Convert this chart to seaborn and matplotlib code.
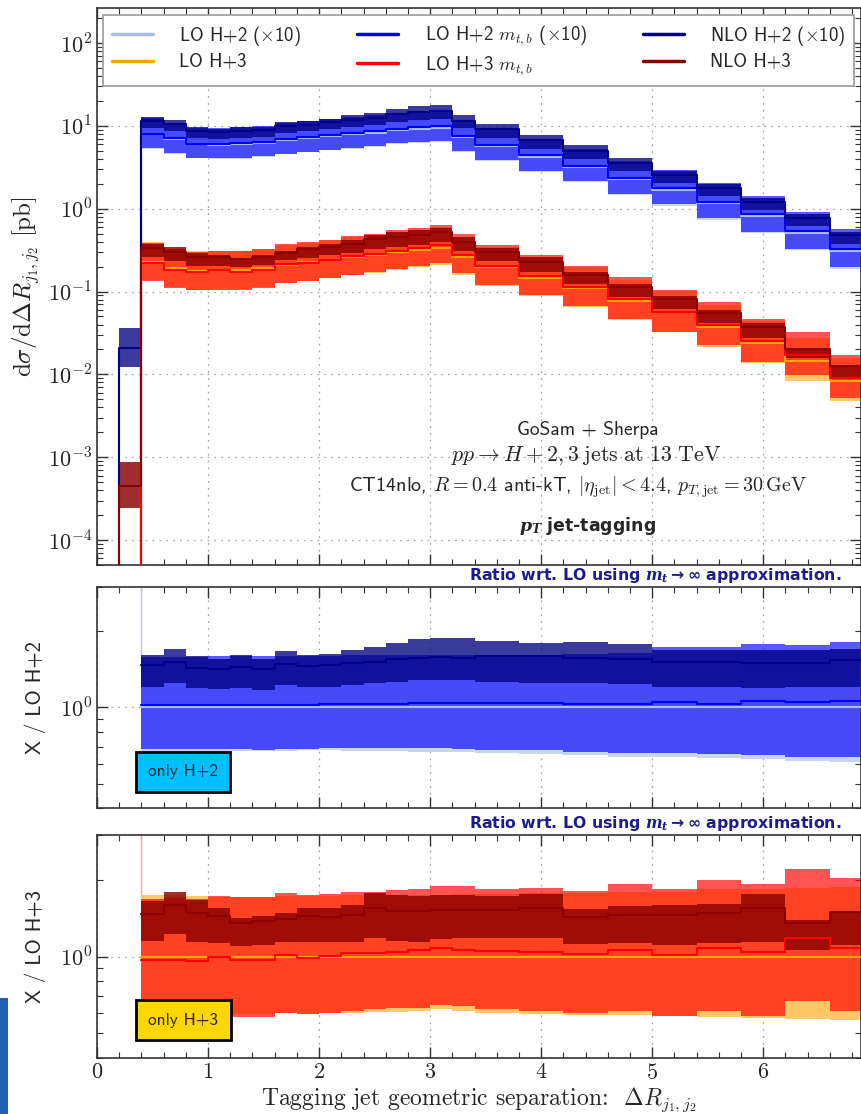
import numpy as np
import matplotlib.pyplot as plt
import seaborn as sns
from matplotlib.lines import Line2D
from matplotlib.patches import Rectangle
from matplotlib.ticker import LogLocator, NullFormatter, MultipleLocator, FuncFormatter

# bin edges of the Delta R distribution
edges = [0.2, 0.4, 0.6, 0.8, 1.0, 1.2, 1.4, 1.6, 1.8, 2.0, 2.2, 2.4, 2.6, 2.8, 3.0,
         3.2, 3.4, 3.8, 4.2, 4.6, 5.0, 5.4, 5.8, 6.2, 6.6, 7.0]

# LO central values [pb] for bins 0.4 .. 7.0 (H+2 already multiplied by 10)
lo2 = [7.9, 6.9, 6.0, 5.9, 6.0, 6.3, 6.7, 7.1, 7.5, 7.9, 8.3, 8.9, 9.3, 9.5, 7.3,
       5.7, 4.25, 3.2, 2.3, 1.7, 1.17, 0.81, 0.51, 0.31]
lo3 = [0.23, 0.19, 0.177, 0.18, 0.18, 0.19, 0.21, 0.225, 0.24, 0.26, 0.275, 0.30, 0.32, 0.34, 0.26,
       0.196, 0.147, 0.111, 0.077, 0.056, 0.037, 0.024, 0.0147, 0.0084]

# NLO in the 0.2-0.4 bin where LO vanishes: (low, central, high)
nlo2_first = [0.0124, 0.0209, 0.0362]
nlo3_first = [2.43e-4, 4.47e-4, 8.7e-4]

# ratios to LO (m_t -> inf), bins 0.4 .. 7.0
lo2_dn = [0.672, 0.672, 0.675, 0.675, 0.672, 0.67, 0.675, 0.676, 0.676, 0.674, 0.672, 0.67, 0.668, 0.666, 0.664,
          0.662, 0.652, 0.648, 0.638, 0.636, 0.629, 0.623, 0.614, 0.61]
lo2_up = [1.55, 1.55, 1.55, 1.56, 1.56, 1.56, 1.56, 1.56, 1.56, 1.56, 1.56, 1.57, 1.57, 1.57, 1.57,
          1.57, 1.57, 1.58, 1.59, 1.63, 1.64, 1.66, 1.67, 1.69]
mtb2 = [1.024, 1.024, 1.02, 1.024, 1.024, 1.02, 1.024, 1.024, 1.03, 1.03, 1.035, 1.035, 1.04, 1.04, 1.04,
        1.04, 1.04, 1.035, 1.03, 1.05, 1.03, 1.065, 1.05, 1.065]
mtb2_dn = [0.682, 0.682, 0.685, 0.685, 0.682, 0.68, 0.685, 0.688, 0.69, 0.69, 0.69, 0.69, 0.69, 0.69, 0.685,
           0.678, 0.676, 0.668, 0.662, 0.662, 0.652, 0.648, 0.638, 0.636]
mtb2_up = [1.59, 1.59, 1.59, 1.6, 1.6, 1.6, 1.6, 1.6, 1.6, 1.61, 1.61, 1.62, 1.62, 1.62, 1.62,
           1.62, 1.62, 1.63, 1.64, 1.736, 1.73, 1.78, 1.77, 1.815]
nlo2 = [1.47, 1.516, 1.435, 1.42, 1.45, 1.42, 1.49, 1.46, 1.47, 1.5, 1.52, 1.553, 1.57, 1.58, 1.57,
        1.6, 1.6, 1.57, 1.56, 1.516, 1.516, 1.5, 1.5, 1.54]
nlo2_dn = [1.21, 1.246, 1.19, 1.18, 1.2, 1.17, 1.23, 1.21, 1.21, 1.23, 1.246, 1.265, 1.284, 1.284, 1.28,
           1.265, 1.254, 1.25, 1.24, 1.21, 1.21, 1.19, 1.21, 1.21]
nlo2_up = [1.62, 1.70, 1.60, 1.55, 1.62, 1.55, 1.675, 1.62, 1.63, 1.69, 1.73, 1.805, 1.86, 1.88, 1.88,
           1.84, 1.806, 1.815, 1.79, 1.684, 1.684, 1.684, 1.684, 1.71]

lo3_dn = [0.598, 0.598, 0.598, 0.598, 0.595, 0.595, 0.598, 0.595, 0.603, 0.603, 0.606, 0.608, 0.612, 0.621, 0.612,
          0.603, 0.595, 0.592, 0.588, 0.583, 0.577, 0.572, 0.567, 0.563]
lo3_up = [1.745, 1.74, 1.733, 1.72, 1.72, 1.72, 1.73, 1.73, 1.73, 1.74, 1.74, 1.75, 1.75, 1.75, 1.76,
          1.76, 1.77, 1.78, 1.79, 1.80, 1.84, 1.85, 1.86, 1.88]
mtb3 = [0.97, 0.97, 0.962, 1.0, 0.97, 0.97, 1.015, 0.99, 1.006, 1.03, 1.036, 1.04, 1.06, 1.083, 1.06,
        1.052, 1.046, 1.02, 1.06, 1.01, 1.077, 1.04, 1.178, 1.083]
mtb3_dn = [0.585, 0.585, 0.585, 0.585, 0.58, 0.58, 0.598, 0.595, 0.603, 0.612, 0.621, 0.627, 0.63, 0.645, 0.64,
           0.62, 0.612, 0.598, 0.61, 0.585, 0.612, 0.585, 0.67, 0.612]
mtb3_up = [1.68, 1.70, 1.68, 1.73, 1.715, 1.715, 1.775, 1.745, 1.76, 1.786, 1.80, 1.823, 1.84, 1.885, 1.885,
           1.85, 1.855, 1.81, 1.92, 1.84, 2.0, 1.92, 2.2, 2.04]
nlo3 = [1.47, 1.6, 1.486, 1.437, 1.36, 1.374, 1.41, 1.437, 1.43, 1.45, 1.55, 1.503, 1.508, 1.53, 1.53,
        1.53, 1.55, 1.43, 1.46, 1.45, 1.486, 1.55, 1.36, 1.49]
nlo3_dn = [1.15, 1.23, 1.14, 1.126, 1.1, 1.11, 1.137, 1.137, 1.137, 1.137, 1.178, 1.15, 1.14, 1.17, 1.178,
           1.178, 1.178, 1.116, 1.126, 1.11, 1.126, 1.14, 1.06, 1.11]
nlo3_up = [1.65, 1.80, 1.66, 1.55, 1.42, 1.437, 1.48, 1.55, 1.55, 1.595, 1.775, 1.745, 1.723, 1.745, 1.75,
           1.735, 1.76, 1.54, 1.586, 1.595, 1.61, 1.76, 1.387, 1.516]

sns.set_style('ticks')
plt.rcParams['font.family'] = ['cmss10', 'DejaVu Sans']
plt.rcParams['mathtext.fontset'] = 'cm'
plt.rcParams['axes.formatter.use_mathtext'] = True
plt.rcParams['axes.unicode_minus'] = True
# bold-italic math for the few bold annotations (used through math_fontfamily='custom')
plt.rcParams['mathtext.it'] = 'DejaVu Serif:italic:bold'
plt.rcParams['mathtext.rm'] = 'DejaVu Sans:bold'

colors = {
    'lo2': '#a9bfe6', 'mtb2': '#0000ff', 'nlo2': '#00008b',
    'lo3': '#ffa500', 'mtb3': '#ff0000', 'nlo3': '#8b0000',
}
band_style = {
    'lo2': dict(color='#c8d5ec', alpha=1.0), 'mtb2': dict(color='#0000ff', alpha=0.65),
    'nlo2': dict(color='#000080', alpha=0.77),
    'lo3': dict(color='#ffc864', alpha=1.0), 'mtb3': dict(color='#ff0000', alpha=0.67),
    'nlo3': dict(color='#8b0000', alpha=0.82),
}
edge_line = {'2': '#b8c4f0', '3': '#f4a8a8'}


def band(ax, e, lo, hi, key):
    lo = np.asarray(lo, float)
    hi = np.asarray(hi, float)
    ax.fill_between(e, np.r_[lo, lo[-1]], np.r_[hi, hi[-1]], step='post', lw=0,
                    zorder=2, **band_style[key])


def steps(ax, e, v, key, drop=False, lw=1.5):
    v = np.asarray(v, float)
    x = np.r_[e[0], e] if drop else np.asarray(e)
    y = np.r_[0.0, v, v[-1]] if drop else np.r_[v, v[-1]]
    sns.lineplot(x=x, y=y, ax=ax, color=colors[key], linewidth=lw, drawstyle='steps-post',
                 estimator=None, sort=False, legend=False, zorder=3)


def pow10(v, pos):
    return r'$10^{%d}$' % round(np.log10(v))


e = np.array(edges)
e1 = e[1:]

fig = plt.figure(figsize=(8.62, 11.14), dpi=100)
L, R = 97 / 862, 861 / 862
H = 1114
ax0 = fig.add_axes([L, 1 - 565 / H, R - L, (565 - 8) / H])
ax1 = fig.add_axes([L, 1 - 808 / H, R - L, (808 - 587) / H])
ax2 = fig.add_axes([L, 1 - 1058 / H, R - L, (1058 - 835) / H])

# ---- top panel: absolute distributions
for tag, lo, first, r in [
    ('2', lo2, nlo2_first, (lo2_dn, lo2_up, mtb2, mtb2_dn, mtb2_up, nlo2, nlo2_dn, nlo2_up)),
    ('3', lo3, nlo3_first, (lo3_dn, lo3_up, mtb3, mtb3_dn, mtb3_up, nlo3, nlo3_dn, nlo3_up)),
]:
    lo = np.asarray(lo)
    ldn, lup, m, mdn, mup, n, ndn, nup = [np.asarray(a) for a in r]
    band(ax0, e1, lo * ldn, lo * lup, 'lo' + tag)
    band(ax0, e1, lo * mdn, lo * mup, 'mtb' + tag)
    band(ax0, e, np.r_[first[0], lo * ndn], np.r_[first[2], lo * nup], 'nlo' + tag)
    steps(ax0, e1, lo, 'lo' + tag, drop=True)
    steps(ax0, e1, lo * m, 'mtb' + tag, drop=True)
    steps(ax0, e, np.r_[first[1], lo * n], 'nlo' + tag, drop=True)

# ---- ratio panels
r_lim = (0.4, 3.0)
for ax, tag, lo, r in [
    (ax1, '2', lo2, (lo2_dn, lo2_up, mtb2, mtb2_dn, mtb2_up, nlo2, nlo2_dn, nlo2_up)),
    (ax2, '3', lo3, (lo3_dn, lo3_up, mtb3, mtb3_dn, mtb3_up, nlo3, nlo3_dn, nlo3_up)),
]:
    lo = np.asarray(lo)
    ldn, lup, m, mdn, mup, n, ndn, nup = [np.asarray(a) for a in r]
    band(ax, e1, ldn, lup, 'lo' + tag)
    band(ax, e1, mdn, mup, 'mtb' + tag)
    band(ax, e1, ndn, nup, 'nlo' + tag)
    steps(ax, e1, lo / lo, 'lo' + tag)
    steps(ax, e1, m, 'mtb' + tag)
    steps(ax, e1, n, 'nlo' + tag)
    # ratio diverges in the first bin (LO = 0)
    ax.plot([e1[0], e1[0]], [nup[0], r_lim[1]], color=edge_line[tag], lw=1.0, zorder=1)

# ---- axes cosmetics
for ax in (ax0, ax1, ax2):
    ax.set_yscale('log')
    ax.set_xlim(0, 6.88)
    ax.set_axisbelow(True)
    ax.xaxis.set_major_locator(MultipleLocator(1))
    ax.xaxis.set_minor_locator(MultipleLocator(0.2))
    ax.yaxis.set_major_locator(LogLocator(base=10))
    ax.yaxis.set_major_formatter(FuncFormatter(pow10))
    ax.yaxis.set_minor_locator(LogLocator(base=10, subs=np.arange(2, 10)))
    ax.yaxis.set_minor_formatter(NullFormatter())
    ax.tick_params(which='both', direction='in', top=True, right=True, color='#333333')
    ax.tick_params(which='major', length=8, width=1.0, labelsize=16)
    ax.tick_params(which='minor', length=4, width=0.8)
    ax.grid(True, which='major', ls=(0, (1.5, 4)), color='#a8a8a8', lw=0.9)
    for s in ax.spines.values():
        s.set_color('#333333')
        s.set_linewidth(1.2)
    ax.set_xlabel('')
    ax.set_ylabel('')

ax0.set_ylim(5e-5, 265)
ax1.set_ylim(*r_lim)
ax2.set_ylim(*r_lim)
ax0.tick_params(labelbottom=False)
ax1.tick_params(labelbottom=False)
ax2.tick_params(axis='x', labelfontfamily='cmr10')

ax0.set_ylabel(r'$\mathrm{d}\sigma/\mathrm{d}\Delta R_{j_1,j_2}\ [\mathrm{pb}]$', fontsize=18, labelpad=4)
ax1.set_ylabel('X / LO H+2', fontsize=15, labelpad=10)
ax2.set_ylabel('X / LO H+3', fontsize=15, labelpad=10)
ax2.set_xlabel(r'Tagging jet geometric separation:  $\Delta R_{j_1,j_2}$', fontsize=17,
               fontfamily='cmr10', labelpad=2)

# legend
handles = [Line2D([], [], color=colors[k], lw=2.5) for k in ['lo2', 'lo3', 'mtb2', 'mtb3', 'nlo2', 'nlo3']]
labels = [r'LO H+2 ($\times$10)', 'LO H+3',
          r'LO H+2 $m_{t,b}$ ($\times$10)', r'LO H+3 $m_{t,b}$',
          r'NLO H+2 ($\times$10)', 'NLO H+3']
leg = ax0.legend(handles, labels, ncol=3, loc='upper left', mode='expand',
                 bbox_to_anchor=(0.008, 0.856, 0.983, 0.131), borderaxespad=0, fontsize=13.5,
                 fancybox=False, framealpha=1, edgecolor='#999999', handlelength=2.2,
                 handletextpad=1.4, borderpad=0.45, labelspacing=0.3)
leg.get_frame().set_linewidth(1.2)

# annotations
ax0.text(0.642, 0.243, 'GoSam + Sherpa', transform=ax0.transAxes, ha='center', va='center', fontsize=14)
ax0.text(0.640, 0.196, r'$pp \rightarrow H+2,3\;\mathrm{jets\ at\ 13\ TeV}$', transform=ax0.transAxes,
         ha='center', va='center', fontsize=15.8)
ax0.text(0.629, 0.139, r'CT14nlo, $R=0.4$ anti-kT, $|\eta_{\mathrm{jet}}|<4.4$, $p_{T,\mathrm{jet}}=30\,\mathrm{GeV}$',
         transform=ax0.transAxes, ha='center', va='center', fontsize=14.5)
ax0.text(0.642, 0.070, r'$p_T$ jet-tagging', transform=ax0.transAxes, ha='center',
         va='center', fontsize=12.5, fontweight='bold', fontfamily='DejaVu Sans',
         math_fontfamily='custom')

for ax in (ax1, ax2):
    ax.text(0.974, 1.01, r'Ratio wrt. LO using $m_t \rightarrow \infty$ approximation.',
            transform=ax.transAxes, ha='right', va='bottom', fontsize=11.3, fontweight='bold',
            color='#1c1c8c', fontfamily='DejaVu Sans', math_fontfamily='custom')

ax1.text(0.113, 0.163, 'only H+2', transform=ax1.transAxes, ha='center', va='center', fontsize=12.5,
         bbox=dict(boxstyle='square,pad=0.7', fc='#00bfff', ec='black', lw=2), zorder=5)
ax2.text(0.113, 0.17, 'only H+3', transform=ax2.transAxes, ha='center', va='center', fontsize=12.5,
         bbox=dict(boxstyle='square,pad=0.7', fc='#ffd700', ec='black', lw=2), zorder=5)

# blue strip at the lower left edge of the page
fig.add_artist(Rectangle((0, 0), 8 / 862, 116 / H, transform=fig.transFigure, color='#1f5fb0', lw=0))

fig.savefig('out.png', dpi=100)
